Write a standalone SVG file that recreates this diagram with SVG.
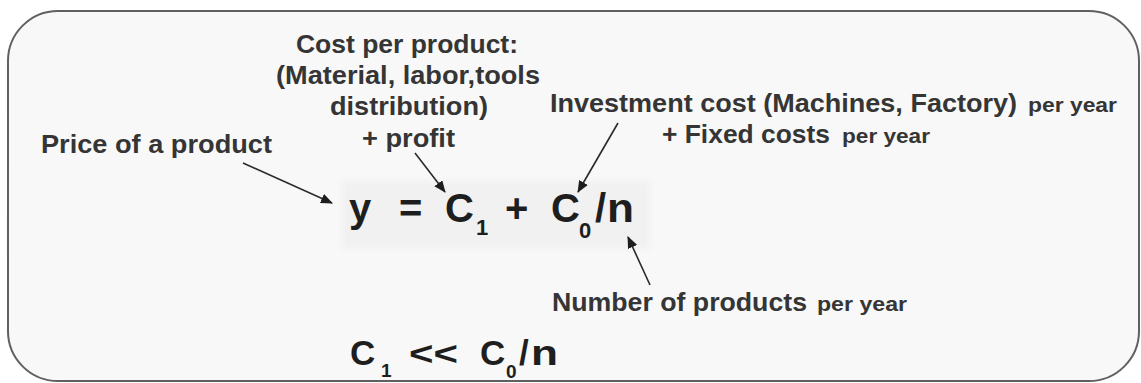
<svg xmlns="http://www.w3.org/2000/svg" width="1141" height="383" viewBox="0 0 1141 383">
  <defs>
    <style>
      .lbl { font-family: "Liberation Sans", Arial, sans-serif; font-weight: bold; font-size: 25px; fill: #353535; }
      .sm { font-family: "Liberation Sans", Arial, sans-serif; font-weight: bold; font-size: 21px; fill: #353535; }
      .eq { font-family: "Liberation Sans", Arial, sans-serif; font-weight: bold; fill: #1e1e1e; }
      .conn { stroke: #2a2a2a; stroke-width: 1.6; fill: none; marker-end: url(#ah); }
    </style>
    <marker id="ah" viewBox="0 0 12 10" refX="11" refY="5" markerWidth="12" markerHeight="10" markerUnits="userSpaceOnUse" orient="auto">
      <path d="M0,0 L12,5 L0,10 Z" fill="#1e1e1e"/>
    </marker>
    <filter id="soft" x="-10%" y="-20%" width="120%" height="140%">
      <feGaussianBlur stdDeviation="3"/>
    </filter>
  </defs>
  <rect width="1141" height="383" fill="#ffffff"/>
  <g id="frame">
    <rect x="8" y="11" width="1131" height="370" rx="50" ry="50" fill="#f8f8f8" stroke="#606060" stroke-width="2"/>
  </g>
  <g id="formula">
    <rect x="342" y="181" width="308" height="68" fill="#f1f1f1" filter="url(#soft)"/>
    <text class="eq" font-size="40" x="349" y="222">y</text>
    <text class="eq" font-size="40" x="399" y="222">=</text>
    <text class="eq" font-size="40" x="445" y="222">C</text>
    <text class="eq" font-size="22" x="476" y="235">1</text>
    <text class="eq" font-size="40" x="505" y="222">+</text>
    <text class="eq" font-size="40" x="551" y="222">C</text>
    <text class="eq" font-size="22" x="579" y="238">0</text>
    <text class="eq" font-size="40" x="595" y="222">/</text>
    <text class="eq" font-size="40" x="607" y="222" textLength="27" lengthAdjust="spacingAndGlyphs">n</text>
  </g>
  <g id="inequality">
    <text class="eq" font-size="35" x="350" y="365">C</text>
    <text class="eq" font-size="19" x="381" y="377">1</text>
    <text class="eq" font-size="34" x="409" y="365" textLength="49" lengthAdjust="spacingAndGlyphs">&lt;&lt;</text>
    <text class="eq" font-size="35" x="480" y="365">C</text>
    <text class="eq" font-size="19" x="506" y="378">0</text>
    <text class="eq" font-size="35" x="519" y="365">/</text>
    <text class="eq" font-size="35" x="531" y="365" textLength="27" lengthAdjust="spacingAndGlyphs">n</text>
  </g>
  <g id="price">
    <text class="lbl" x="41" y="153" textLength="231" lengthAdjust="spacingAndGlyphs">Price of a product</text>
  </g>
  <g id="cost">
    <text class="lbl" x="296" y="53" textLength="222" lengthAdjust="spacingAndGlyphs">Cost per product:</text>
    <text class="lbl" x="276" y="84" textLength="264" lengthAdjust="spacingAndGlyphs">(Material, labor,tools</text>
    <text class="lbl" x="330" y="115" textLength="158" lengthAdjust="spacingAndGlyphs">distribution)</text>
    <text class="lbl" x="362" y="147" textLength="93" lengthAdjust="spacingAndGlyphs">+ profit</text>
  </g>
  <g id="investment">
    <text class="lbl" x="550" y="112" textLength="467" lengthAdjust="spacingAndGlyphs">Investment cost (Machines, Factory)</text>
    <text class="sm" x="1028" y="112" textLength="89" lengthAdjust="spacingAndGlyphs">per year</text>
    <text class="lbl" x="662" y="143" textLength="168" lengthAdjust="spacingAndGlyphs">+ Fixed costs</text>
    <text class="sm" x="842" y="143" textLength="88" lengthAdjust="spacingAndGlyphs">per year</text>
  </g>
  <g id="number">
    <text class="lbl" x="552" y="311" textLength="255" lengthAdjust="spacingAndGlyphs">Number of products</text>
    <text class="sm" x="817" y="311" textLength="90" lengthAdjust="spacingAndGlyphs">per year</text>
  </g>
  <g id="connectors">
    <line class="conn" x1="243" y1="163" x2="332" y2="203"/>
    <line class="conn" x1="415" y1="153" x2="445" y2="192"/>
    <line class="conn" x1="618" y1="123" x2="578" y2="192"/>
    <line class="conn" x1="650" y1="285" x2="628" y2="237"/>
  </g>
</svg>
